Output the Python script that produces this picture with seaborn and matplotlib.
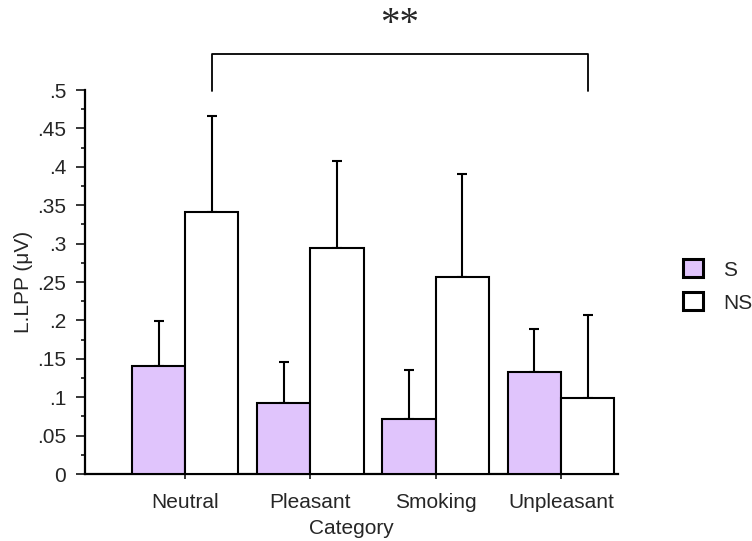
import numpy as np
import pandas as pd
import matplotlib
matplotlib.use("Agg")
import matplotlib.pyplot as plt
import seaborn as sns
from matplotlib.ticker import MultipleLocator, FixedLocator
from matplotlib.patches import Patch

categories = ["Neutral", "Pleasant", "Smoking", "Unpleasant"]
groups = ["S", "NS"]
s_means = [0.141, 0.092, 0.072, 0.133]
s_err = [0.058, 0.054, 0.064, 0.056]
ns_means = [0.341, 0.294, 0.257, 0.099]
ns_err = [0.125, 0.113, 0.134, 0.108]
ytick_vals = [0, 0.05, 0.1, 0.15, 0.2, 0.25, 0.3, 0.35, 0.4, 0.45, 0.5]
ytick_labels = ["0", ".05", ".1", ".15", ".2", ".25", ".3", ".35", ".4", ".45", ".5"]

sns.set_style("white")
plt.rcParams["font.family"] = ["Liberation Sans", "DejaVu Sans"]

df = pd.DataFrame({
    "Category": categories * 2,
    "Group": ["S"] * 4 + ["NS"] * 4,
    "value": s_means + ns_means,
})

fig = plt.figure(figsize=(7.52, 5.41), dpi=100)
ax = fig.add_axes([85 / 752, 1 - 474 / 541, (618 - 85) / 752, (474 - 90) / 541])

colors = {"S": "#E0C4FC", "NS": "#FFFFFF"}
sns.barplot(data=df, x="Category", y="value", hue="Group", hue_order=groups,
            palette=colors, edgecolor="black", linewidth=1.5, width=0.85,
            errorbar=None, saturation=1, ax=ax, legend=False, zorder=3)

errs = [s_err, ns_err]
centers = []
for cont, e in zip(ax.containers, errs):
    xs = [p.get_x() + p.get_width() / 2 for p in cont.patches]
    ys = [p.get_height() for p in cont.patches]
    centers.append(xs)
    ax.errorbar(xs, ys, yerr=[np.zeros(len(e)), e], fmt="none", ecolor="black",
                elinewidth=1.5, capsize=3.5, capthick=1.5, zorder=2)

ax.set_xlim(-0.8, 3.456)
ax.set_ylim(0, 0.5)
ax.yaxis.set_major_locator(FixedLocator(ytick_vals))
ax.set_yticklabels(ytick_labels)
ax.yaxis.set_minor_locator(MultipleLocator(0.025))
ax.tick_params(axis="y", which="major", direction="out", length=6.5, width=1.3,
               labelsize=15, left=True, pad=7)
ax.tick_params(axis="y", which="minor", direction="out", length=3, width=1.3, left=True)
ax.tick_params(axis="x", direction="out", length=3.5, width=1.3, labelsize=15,
               bottom=True, pad=10)
for side in ["top", "right"]:
    ax.spines[side].set_visible(False)
for side in ["left", "bottom"]:
    ax.spines[side].set_linewidth(1.6)
    ax.spines[side].set_color("black")

ax.set_xlabel("Category", fontsize=15, labelpad=5)
ax.set_ylabel("L.LPP (\u03bcV)", fontsize=15, labelpad=3)

# significance bracket
x1 = centers[1][0]
x2 = centers[1][3]
ax.plot([x1, x1, x2, x2], [0.499, 0.547, 0.547, 0.499], color="black", lw=1.3,
        clip_on=False)
ax.text((x1 + x2) / 2, 0.585, "**", ha="center", va="center", fontsize=28,
        family=["Liberation Serif", "DejaVu Serif"], clip_on=False)

# legend
handles = [Patch(facecolor=colors[g], edgecolor="black", linewidth=2.2) for g in groups]
fig.legend(handles, groups, loc="center left", bbox_to_anchor=(664 / 752, 1 - 286 / 541),
           frameon=False, fontsize=15, handlelength=0.95, handleheight=0.95,
           handletextpad=1.0, labelspacing=0.62)

fig.savefig("out.png", dpi=100)
